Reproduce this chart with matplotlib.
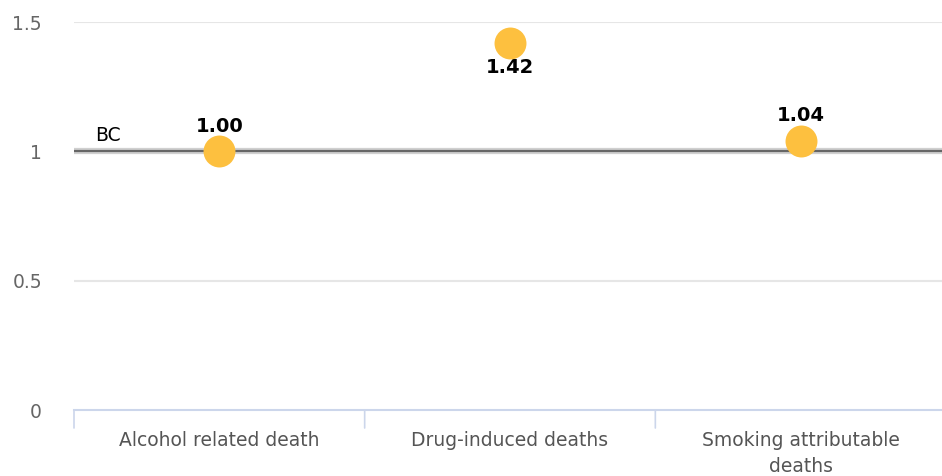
import matplotlib
matplotlib.use("Agg")
import matplotlib.pyplot as plt
from matplotlib.ticker import FixedLocator

categories = ["Alcohol related death", "Drug-induced deaths", "Smoking attributable\ndeaths"]
values = [1.00, 1.42, 1.04]
label_offsets = [1, -1, 1]  # above (+) or below (-)
yticks = [0, 0.5, 1, 1.5]
ytick_labels = ["0", "0.5", "1", "1.5"]
reference_value = 1.0
reference_label = "BC"

W, H = 942, 476
left_px, right_px = 74, 946
fig = plt.figure(figsize=(W / 100, H / 100), dpi=100)
ax = fig.add_axes([left_px / W, (H - 410) / H, (right_px - left_px) / W, (410 - 22) / H])
ax.set_xlim(-0.5, len(categories) - 0.5)
ax.set_ylim(0, 1.5)

for s in ax.spines.values():
    s.set_visible(False)

# grid
for y in yticks[1:]:
    ax.axhline(y, color="#e6e6e6", lw=1.5, zorder=0)
# baseline axis
ax.axhline(0, color="#ccd6eb", lw=1.5, zorder=1, clip_on=False)
# category boundary ticks
for b in [i - 0.5 for i in range(len(categories) + 1)]:
    ax.annotate("", xy=(b, 0), xycoords="data", xytext=(0, -18), textcoords="offset pixels",
                arrowprops=dict(arrowstyle="-", color="#ccd6eb", lw=1.2, shrinkA=0, shrinkB=0))

# reference line with soft shadow
ax.axhline(reference_value, color="#d0d0d0", lw=4.5, zorder=2)
ax.axhline(reference_value, color="#666666", lw=1.6, zorder=3)
ax.annotate(reference_label, xy=(0, reference_value), xycoords=("axes fraction", "data"),
            xytext=(21, 6), textcoords="offset pixels", fontsize=13.5, color="#000000",
            ha="left", va="bottom", family="DejaVu Sans")

x = list(range(len(categories)))
ax.plot(x, values, linestyle="none", marker="o", markersize=23, color="#fdc03f",
        markeredgewidth=0, zorder=5, clip_on=False)

for xi, v, o in zip(x, values, label_offsets):
    ax.annotate(f"{v:.2f}", xy=(xi, v), xytext=(0, 25 * o), textcoords="offset pixels",
                ha="center", va="center", fontsize=14, fontweight="bold", color="#000000",
                family="DejaVu Sans")

ax.yaxis.set_major_locator(FixedLocator(yticks))
ax.set_yticklabels(ytick_labels)
ax.tick_params(axis="y", length=0, pad=23, labelsize=13.5, labelcolor="#666666")
ax.set_xticks(x)
ax.set_xticklabels(categories, linespacing=1.45)
ax.tick_params(axis="x", length=0, pad=15, labelsize=13.5, labelcolor="#555555")
for t in ax.get_xticklabels() + ax.get_yticklabels():
    t.set_family("DejaVu Sans")

fig.savefig("out.png", dpi=100)
